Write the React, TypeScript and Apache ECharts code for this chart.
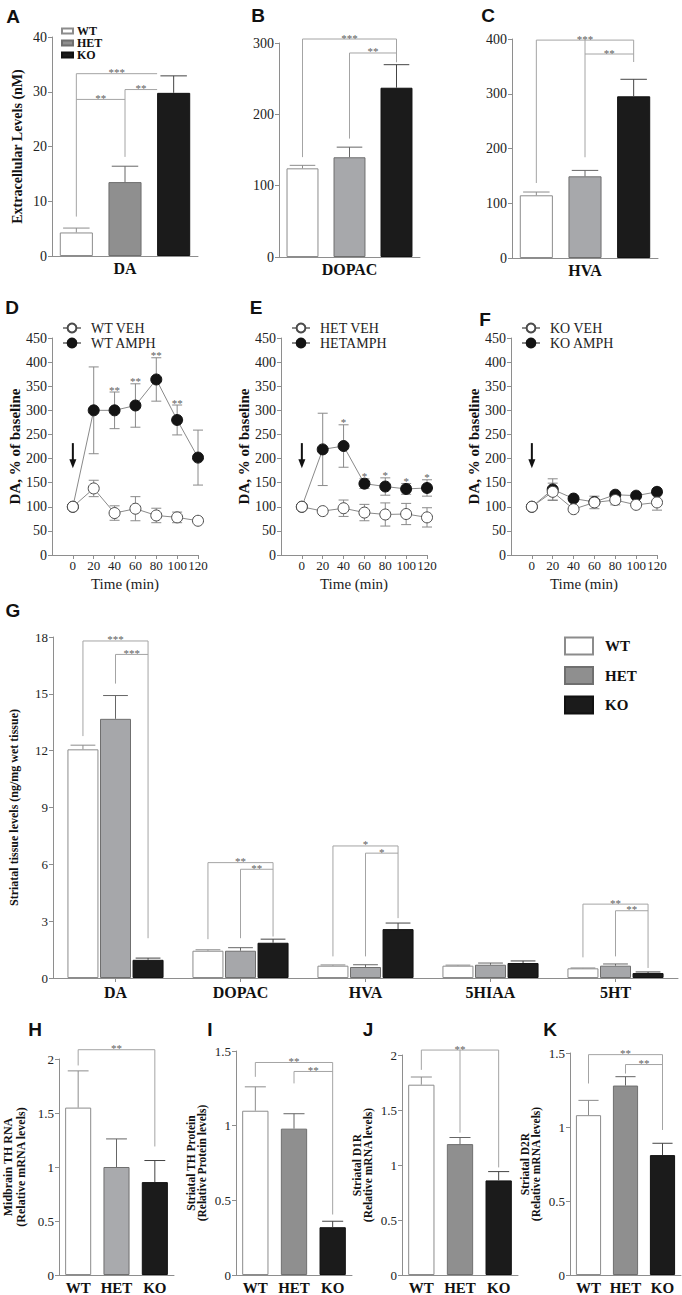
import React, { useEffect, useRef } from "react";
import * as echarts from "echarts";

const SERIF = "Liberation Serif";
const SANS = "Liberation Sans";
const AXIS = "#8e8e8e";
const TXT = "#222222";
const BRACKET = "#a4a4a4";
const STAR = "#5e5e5e";

// ---------- groups ----------
const groups = ["WT", "HET", "KO"];

// ---------- A–C extracellular levels ----------
const extraDA = [4.3, 13.5, 29.8];
const extraDAsem = [0.8, 2.9, 3.1];
const extraDOPAC = [124.3, 139.8, 237.3];
const extraDOPACsem = [4.2, 14.2, 32.3];
const extraHVA = [114.5, 149.2, 295.3];
const extraHVAsem = [6.0, 10.8, 31.1];

// brackets: [fromPos, toPos, level, fromBottom, toBottom, label]
const bracketsA: any[] = [
  [0, 1.66, 33.3, 7.2, null, "***"],
  [0, 1, 28.6, null, null, "**"],
  [1, 1.66, 30.4, 18.1, null, "**"],
];
const bracketsB: any[] = [
  [0, 2, 305.6, 140, 273, "***"],
  [1, 2, 286, 166, null, "**"],
];
const bracketsC: any[] = [
  [0, 2, 398, 137, 358, "***"],
  [1, 2, 372.6, 184, null, "**"],
  [1, 1, 398, 372.6, null, ""],
];

// ---------- D–F time course ----------
const timePoints = [0, 20, 40, 60, 80, 100, 120];
const wtVeh = [100, 138, 87, 96, 82, 78, 71];
const wtVehSem = [0, 17, 15, 25, 15, 11, 0];
const wtAmph = [100, 300, 300, 310, 364, 280, 202];
const wtAmphSem = [0, 90, 38, 45, 45, 31, 57];
const wtSig = ["", "", "**", "**", "**", "**", ""];
const hetVeh = [100, 91, 97, 88, 84, 85, 78];
const hetVehSem = [0, 0, 17, 17, 24, 22, 20];
const hetAmph = [100, 219, 226, 148, 142, 137, 139];
const hetAmphSem = [0, 75, 44, 10, 18, 11, 17];
const hetSig = ["", "", "*", "*", "*", "*", "*"];
const koVeh = [100, 131, 95, 109, 114, 104, 109];
const koVehSem = [0, 18, 0, 13, 10, 0, 16];
const koAmph = [100, 136, 117, 110, 125, 123, 131];
const koAmphSem = [0, 22, 0, 5, 0, 0, 0];
const koSig = ["", "", "", "", "", "", ""];
const arrowSpan = [0, 232, 180]; // time, arrow top, arrow tip (% of baseline)

// ---------- G tissue levels ----------
const tissueCats = ["DA", "DOPAC", "HVA", "5HIAA", "5HT"];
const tissueWT = [12.07, 1.44, 0.65, 0.65, 0.51];
const tissueWTsem = [0.22, 0.05, 0.04, 0.03, 0.02];
const tissueHET = [13.68, 1.44, 0.58, 0.7, 0.65];
const tissueHETsem = [1.23, 0.16, 0.12, 0.09, 0.09];
const tissueKO = [0.96, 1.86, 2.58, 0.79, 0.26];
const tissueKOsem = [0.09, 0.19, 0.32, 0.11, 0.06];
// [category, fromGroup, toGroup, level, fromBottom, toBottom, label]
const bracketsG: any[] = [
  [0, 0, 2, 17.79, 12.77, 2.1, "***"],
  [0, 1, 2, 17.08, 15.54, null, "***"],
  [1, 0, 2, 6.09, 2.05, 2.19, "**"],
  [1, 1, 2, 5.74, 2.1, null, "**"],
  [2, 0, 2, 6.97, 1.14, 3.16, "*"],
  [2, 1, 2, 6.59, 1.14, null, "*"],
  [4, 0, 2, 3.9, 1.09, 0.53, "**"],
  [4, 1, 2, 3.55, 1.14, null, "**"],
];

// ---------- H–K ----------
const thRna = [1.55, 1.0, 0.86];
const thRnaSem = [0.34, 0.26, 0.2];
const thProtein = [1.1, 0.98, 0.32];
const thProteinSem = [0.16, 0.1, 0.04];
const d1r = [1.73, 1.19, 0.86];
const d1rSem = [0.07, 0.06, 0.08];
const d2r = [1.08, 1.28, 0.81];
const d2rSem = [0.1, 0.06, 0.08];
const bracketsH: any[] = [[0, 2, 2.086, 1.94, 1.19, "**"]];
const bracketsI: any[] = [
  [0, 2, 1.423, 1.327, 0.405, "**"],
  [1, 2, 1.363, 1.283, null, "**"],
];
const bracketsJ: any[] = [
  [0, 2, 2.045, 1.865, 0.978, "**"],
  [1, 1, 2.045, 1.294, null, ""],
];
const bracketsK: any[] = [
  [0, 2, 1.489, 1.294, 0.98, "**"],
  [1, 2, 1.422, 1.361, null, "**"],
];

const G_BAR = 0.248;
const G_GAP = 0.05;

const errColor = ["#8c8c8c", "#666666", "#444444"];

function barStyle(i: number, het: string) {
  if (i === 0) return { color: "#ffffff", borderColor: "#8c8c8c", borderWidth: 1 };
  if (i === 1) return { color: het, borderColor: "#6f6f6f", borderWidth: 1 };
  return { color: "#1b1b1b", borderColor: "#111111", borderWidth: 1 };
}

function txt(text: string, x: number, y: number, size: number, fill: string, align: string, valign: string) {
  return {
    type: "text",
    x,
    y,
    style: {
      legacy: false,
      text,
      fill,
      fontFamily: SERIF,
      fontSize: size,
      align,
      verticalAlign: valign,
    },
  };
}

function valueYAxis(gi: number, max: number, interval: number, labelSize: number, name: string, nameGap: number, nameSize: number, nameLH?: number) {
  return {
    gridIndex: gi,
    type: "value",
    min: 0,
    max,
    interval,
    splitLine: { show: false },
    axisLine: { show: true, onZero: false, lineStyle: { color: AXIS, width: 1 } },
    axisTick: { show: true, length: 4, lineStyle: { color: AXIS } },
    axisLabel: { margin: 5, fontFamily: SERIF, fontSize: labelSize, color: TXT },
    name,
    nameLocation: "middle",
    nameGap,
    nameTextStyle: { fontFamily: SERIF, fontWeight: "bold", fontSize: nameSize, color: "#111", lineHeight: nameLH },
  };
}

function errorBarRenderer(barFrac: number, slotFrac: number) {
  return (params: any, api: any) => {
    const c = api.value(0);
    const m = api.value(1);
    const s = api.value(2);
    const slot = api.value(3);
    const ci = api.value(4);
    const band = api.size([1, 0])[0];
    const dx = slot * slotFrac * band;
    const b = api.coord([c, m]);
    const t = api.coord([c, m + s]);
    const x = b[0] + dx;
    const half = band * barFrac * 0.4;
    const st = { stroke: errColor[ci], lineWidth: 1 };
    return {
      type: "group",
      children: [
        { type: "line", shape: { x1: x, y1: b[1], x2: x, y2: t[1] }, style: st },
        { type: "line", shape: { x1: x - half, y1: t[1], x2: x + half, y2: t[1] }, style: st },
      ],
    };
  };
}

function bracketSeries(gi: number, list: any[]) {
  return {
    type: "custom",
    xAxisIndex: gi,
    yAxisIndex: gi,
    z: 4,
    silent: true,
    itemStyle: { color: STAR },
    data: list.map((b) => [Math.round(b[0]), b[2]]),
    renderItem: (params: any, api: any) => {
      const b = list[params.dataIndex];
      const band = api.size([1, 0])[0];
      const px = (pos: number, y: number) => {
        const base = Math.round(pos);
        const c = api.coord([base, y]);
        return [c[0] + (pos - base) * band, c[1]];
      };
      const st = { stroke: BRACKET, lineWidth: 1 };
      const a = px(b[0], b[2]);
      const c = px(b[1], b[2]);
      const children: any[] = [];
      if (Math.abs(a[0] - c[0]) > 0.1) children.push({ type: "line", shape: { x1: a[0], y1: a[1], x2: c[0], y2: c[1] }, style: st });
      if (b[3] != null) {
        const d = px(b[0], b[3]);
        children.push({ type: "line", shape: { x1: a[0], y1: a[1], x2: d[0], y2: d[1] }, style: st });
      }
      if (b[4] != null) {
        const d = px(b[1], b[4]);
        children.push({ type: "line", shape: { x1: c[0], y1: c[1], x2: d[0], y2: d[1] }, style: st });
      }
      if (b[5]) children.push(txt(b[5], (a[0] + c[0]) / 2, a[1] + 4, 11, STAR, "center", "bottom"));
      return { type: "group", children };
    },
  };
}

function addBarPanel(o: any, p: any) {
  const gi = o.grid.length;
  o.grid.push({ left: p.left, top: p.top, width: p.width, height: p.height });
  o.xAxis.push({
    gridIndex: gi,
    type: "category",
    data: groups,
    axisLine: { show: true, onZero: false, lineStyle: { color: AXIS } },
    axisTick: { show: false },
    axisLabel: p.catLabels
      ? { show: true, interval: 0, margin: 5, fontFamily: SERIF, fontWeight: "bold", fontSize: 15, color: "#111" }
      : { show: false },
    name: p.xName || "",
    nameLocation: "middle",
    nameGap: 4,
    nameTextStyle: { fontFamily: SERIF, fontWeight: "bold", fontSize: 16, color: "#111" },
  });
  o.yAxis.push(valueYAxis(gi, p.max, p.interval, p.labelSize, p.yName || "", p.yNameGap || 0, p.yNameSize || 12, p.yNameLH));
  groups.forEach((g, i) => {
    o.series.push({
      type: "bar",
      name: g,
      xAxisIndex: gi,
      yAxisIndex: gi,
      barWidth: "68%",
      barGap: "-100%",
      z: 2,
      silent: true,
      itemStyle: barStyle(i, p.het),
      data: p.values.map((v: number, j: number) => (j === i ? v : "-")),
    });
  });
  o.series.push({
    type: "custom",
    xAxisIndex: gi,
    yAxisIndex: gi,
    z: 3,
    silent: true,
    data: p.values.map((v: number, i: number) => [i, v, p.sems[i], 0, i]),
    renderItem: errorBarRenderer(0.68, 0),
  });
  o.series.push(bracketSeries(gi, p.brackets));
}

function addLinePanel(o: any, p: any) {
  const gi = o.grid.length;
  o.grid.push({ left: p.left, top: 338, width: 146, height: 217 });
  o.xAxis.push({
    gridIndex: gi,
    type: "value",
    min: -20,
    max: 120,
    interval: 20,
    splitLine: { show: false },
    axisLine: { show: true, onZero: false, lineStyle: { color: AXIS } },
    axisTick: { show: true, length: 4, lineStyle: { color: AXIS } },
    axisLabel: { margin: 4, showMinLabel: false, fontFamily: SERIF, fontSize: 13, color: TXT },
    name: "Time (min)",
    nameLocation: "middle",
    nameGap: 21,
    nameTextStyle: { fontFamily: SERIF, fontSize: 15, color: TXT },
  });
  o.yAxis.push(valueYAxis(gi, 450, 50, 14, "DA, % of baseline", 27, 15));

  const lineErr = (vals: number[], sems: number[], z: number) => ({
    type: "custom",
    xAxisIndex: gi,
    yAxisIndex: gi,
    z,
    silent: true,
    data: timePoints.map((t, i) => [t, vals[i], sems[i]]),
    renderItem: (params: any, api: any) => {
      const t = api.value(0);
      const m = api.value(1);
      const s = api.value(2);
      if (!(s > 0)) return { type: "group", children: [] };
      const hi = api.coord([t, m + s]);
      const lo = api.coord([t, m - s]);
      const st = { stroke: "#8a8a8a", lineWidth: 1 };
      return {
        type: "group",
        children: [
          { type: "line", shape: { x1: hi[0], y1: hi[1], x2: lo[0], y2: lo[1] }, style: st },
          { type: "line", shape: { x1: hi[0] - 5, y1: hi[1], x2: hi[0] + 5, y2: hi[1] }, style: st },
          { type: "line", shape: { x1: lo[0] - 5, y1: lo[1], x2: lo[0] + 5, y2: lo[1] }, style: st },
        ],
      };
    },
  });

  o.series.push(lineErr(p.amph, p.amphSem, 2));
  o.series.push(lineErr(p.veh, p.vehSem, 2));
  o.series.push({
    type: "line",
    name: p.ampName,
    xAxisIndex: gi,
    yAxisIndex: gi,
    data: timePoints.map((t, i) => [t, p.amph[i]]),
    symbol: "circle",
    symbolSize: 11,
    z: 3,
    silent: true,
    lineStyle: { color: "#8a8a8a", width: 1 },
    itemStyle: { color: "#141414", borderColor: "#141414", borderWidth: 1 },
  });
  o.series.push({
    type: "line",
    name: p.vehName,
    xAxisIndex: gi,
    yAxisIndex: gi,
    data: timePoints.map((t, i) => [t, p.veh[i]]),
    symbol: "circle",
    symbolSize: 11,
    z: 4,
    silent: true,
    lineStyle: { color: "#8a8a8a", width: 1 },
    itemStyle: { color: "#ffffff", borderColor: "#4a4a4a", borderWidth: 1 },
  });
  const sigIdx = timePoints.map((t, i) => i).filter((i) => p.sig[i]);
  o.series.push({
    type: "custom",
    xAxisIndex: gi,
    yAxisIndex: gi,
    z: 5,
    silent: true,
    itemStyle: { color: STAR },
    data: sigIdx.map((i) => [timePoints[i], p.amph[i] + p.amphSem[i]]),
    renderItem: (params: any, api: any) => {
      const i = sigIdx[params.dataIndex];
      const c = api.coord([api.value(0), api.value(1)]);
      return txt(p.sig[i], c[0], c[1] + 3, 11, STAR, "center", "bottom");
    },
  });
  o.series.push({
    type: "custom",
    xAxisIndex: gi,
    yAxisIndex: gi,
    z: 5,
    silent: true,
    data: [arrowSpan],
    renderItem: (params: any, api: any) => {
      const a = api.coord([api.value(0), api.value(1)]);
      const b = api.coord([api.value(0), api.value(2)]);
      return {
        type: "group",
        children: [
          { type: "line", shape: { x1: a[0], y1: a[1], x2: b[0], y2: b[1] - 7 }, style: { stroke: "#111", lineWidth: 2 } },
          {
            type: "polygon",
            shape: { points: [[b[0] - 3.5, b[1] - 9], [b[0] + 3.5, b[1] - 9], [b[0], b[1]]] },
            style: { fill: "#111" },
          },
        ],
      };
    },
  });
  o.legend.push({
    data: [p.vehName, p.ampName],
    left: p.left + 10,
    top: 320.5,
    orient: "vertical",
    padding: 0,
    itemGap: 0,
    itemWidth: 18,
    itemHeight: 11,
    selectedMode: false,
    textStyle: { fontFamily: SERIF, fontSize: 14, color: TXT, lineHeight: 15, padding: [0, 0, 0, 5] },
  });
}

function addGroupedPanel(o: any) {
  const gi = o.grid.length;
  o.grid.push({ left: 53, top: 637, width: 625, height: 341 });
  o.xAxis.push({
    gridIndex: gi,
    type: "category",
    data: tissueCats,
    axisLine: { show: true, onZero: false, lineStyle: { color: AXIS } },
    axisTick: { show: true, alignWithLabel: true, length: 4, lineStyle: { color: AXIS } },
    axisLabel: { interval: 0, margin: 6, fontFamily: SERIF, fontWeight: "bold", fontSize: 16, color: "#111" },
  });
  o.yAxis.push(valueYAxis(gi, 18, 3, 13, "Striatal tissue levels (ng/mg wet tissue)", 33, 12));
  const vals = [tissueWT, tissueHET, tissueKO];
  const sems = [tissueWTsem, tissueHETsem, tissueKOsem];
  groups.forEach((g, i) => {
    o.series.push({
      type: "bar",
      name: g,
      xAxisIndex: gi,
      yAxisIndex: gi,
      barWidth: G_BAR * 100 + "%",
      barGap: G_GAP * 100 + "%",
      z: 2,
      silent: true,
      itemStyle: barStyle(i, "#a6a7aa"),
      data: vals[i],
    });
  });
  const errData: any[] = [];
  groups.forEach((g, i) => {
    vals[i].forEach((v, c) => errData.push([c, v, sems[i][c], i - 1, i]));
  });
  const slot = G_BAR * (1 + G_GAP);
  o.series.push({
    type: "custom",
    xAxisIndex: gi,
    yAxisIndex: gi,
    z: 3,
    silent: true,
    data: errData,
    renderItem: errorBarRenderer(G_BAR, slot),
  });
  const list = bracketsG.map((b) => [b[0] + (b[1] - 1) * slot, b[0] + (b[2] - 1) * slot, b[3], b[4], b[5], b[6]]);
  o.series.push(bracketSeries(gi, list));
  o.legend.push({
    data: groups,
    left: 564,
    top: 636.5,
    orient: "vertical",
    padding: 0,
    icon: "rect",
    itemGap: 10.5,
    itemWidth: 28,
    itemHeight: 17,
    selectedMode: false,
    textStyle: { fontFamily: SERIF, fontWeight: "bold", fontSize: 15, color: "#111", lineHeight: 17, padding: [0, 0, 0, 7] },
  });
}

const panelLetters: any[] = [
  ["A", 13, 16],
  ["B", 258, 15],
  ["C", 488, 15],
  ["D", 12, 307],
  ["E", 256, 307],
  ["F", 485, 319],
  ["G", 13, 610],
  ["H", 35, 1029],
  ["I", 210, 1029],
  ["J", 368, 1029],
  ["K", 550, 1029],
];

function buildOption() {
  const o: any = {
    animation: false,
    backgroundColor: "#ffffff",
    grid: [],
    xAxis: [],
    yAxis: [],
    series: [],
    legend: [],
    graphic: [],
  };
  addBarPanel(o, {
    left: 52, top: 37, width: 146, height: 219, max: 40, interval: 10, labelSize: 14,
    values: extraDA, sems: extraDAsem, brackets: bracketsA, het: "#8f8f8f", xName: "DA",
    yName: "Extracellular Levels (nM)", yNameGap: 28, yNameSize: 14,
  });
  addBarPanel(o, {
    left: 279, top: 43, width: 141, height: 214, max: 300, interval: 100, labelSize: 14,
    values: extraDOPAC, sems: extraDOPACsem, brackets: bracketsB, het: "#a7a8ab", xName: "DOPAC",
  });
  addBarPanel(o, {
    left: 512, top: 39, width: 146, height: 219, max: 400, interval: 100, labelSize: 14,
    values: extraHVA, sems: extraHVAsem, brackets: bracketsC, het: "#a7a8ab", xName: "HVA",
  });
  o.legend.push({
    data: groups,
    left: 61,
    top: 25,
    orient: "vertical",
    padding: 0,
    icon: "rect",
    itemGap: 0,
    itemWidth: 11,
    itemHeight: 5,
    selectedMode: false,
    textStyle: { fontFamily: SERIF, fontWeight: "bold", fontSize: 12, color: "#111", lineHeight: 10, padding: [0, 0, 0, -1] },
  });

  addLinePanel(o, { left: 52, veh: wtVeh, vehSem: wtVehSem, amph: wtAmph, amphSem: wtAmphSem, sig: wtSig, vehName: "WT VEH", ampName: "WT AMPH" });
  addLinePanel(o, { left: 281, veh: hetVeh, vehSem: hetVehSem, amph: hetAmph, amphSem: hetAmphSem, sig: hetSig, vehName: "HET VEH", ampName: "HETAMPH" });
  addLinePanel(o, { left: 511, veh: koVeh, vehSem: koVehSem, amph: koAmph, amphSem: koAmphSem, sig: koSig, vehName: "KO VEH", ampName: "KO AMPH" });

  addGroupedPanel(o);

  addBarPanel(o, {
    left: 57, top: 1059, width: 117, height: 216.5, max: 2, interval: 0.5, labelSize: 13,
    values: thRna, sems: thRnaSem, brackets: bracketsH, het: "#a9aaad", catLabels: true,
    yName: "Midbrain TH RNA\n(Relative mRNA levels)", yNameGap: 32, yNameSize: 12, yNameLH: 13,
  });
  addBarPanel(o, {
    left: 236, top: 1051, width: 116, height: 225, max: 1.5, interval: 0.5, labelSize: 13,
    values: thProtein, sems: thProteinSem, brackets: bracketsI, het: "#8f8f8f", catLabels: true,
    yName: "Striatal TH Protein\n(Relative Protein levels)", yNameGap: 29, yNameSize: 11.5, yNameLH: 11,
  });
  addBarPanel(o, {
    left: 402, top: 1055, width: 116, height: 222, max: 2, interval: 0.5, labelSize: 13,
    values: d1r, sems: d1rSem, brackets: bracketsJ, het: "#8f8f8f", catLabels: true,
    yName: "Striatal D1R\n(Relative mRNA levels)", yNameGap: 29, yNameSize: 11.5, yNameLH: 11,
  });
  addBarPanel(o, {
    left: 570, top: 1053, width: 111, height: 223, max: 1.5, interval: 0.5, labelSize: 13,
    values: d2r, sems: d2rSem, brackets: bracketsK, het: "#8f8f8f", catLabels: true,
    yName: "Striatal D2R\n(Relative mRNA levels)", yNameGap: 29, yNameSize: 11.5, yNameLH: 11,
  });

  panelLetters.forEach(([l, x, y]) => {
    o.graphic.push({
      type: "text",
      x,
      y,
      style: {
        text: l,
        fill: "#111111",
        fontFamily: SANS,
        fontWeight: "bold",
        fontSize: 19,
        align: "center",
        textAlign: "center",
        verticalAlign: "middle",
        textVerticalAlign: "middle",
      },
    });
  });
  return o;
}

export default function App() {
  const ref = useRef<HTMLDivElement>(null);
  useEffect(() => {
    const chart = echarts.init(ref.current!, null, { renderer: "svg" });
    chart.setOption(buildOption());
    return () => chart.dispose();
  }, []);
  return (
    <div
      ref={ref}
      style={{ position: "absolute", left: 0, top: 0, width: 682, height: 1295, background: "#ffffff" }}
    />
  );
}
